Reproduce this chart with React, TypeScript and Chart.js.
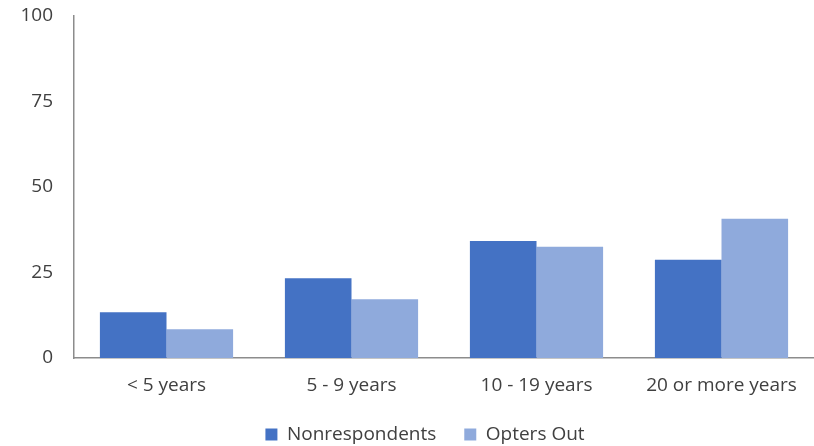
import React, { useEffect, useRef } from "react";
import { Chart, registerables } from "chart.js";

Chart.register(...registerables);

// Length-of-service groups and the share (%) of each group
const categories = ["< 5 years", "5 - 9 years", "10 - 19 years", "20 or more years"];
const nonrespondents = [13.4, 23.3, 34.2, 28.7];
const optersOut = [8.4, 17.2, 32.5, 40.7];
const yTicks = [0, 25, 50, 75, 100];

const FONT = "'Open Sans', sans-serif";
const TEXT = "#404040";
const AXIS = "#8c8c8c";
const LEGEND_HEIGHT = 49;
const LEGEND_SHIFT = -19;

// Gives the bottom legend a fixed height and nudges it left of the plot centre
const legendPlacementPlugin = {
  id: "legendPlacement",
  beforeLayout(chart: any) {
    const legend = chart.legend;
    if (legend && !legend.__placed) {
      const fit = legend.fit.bind(legend);
      legend.fit = () => {
        fit();
        legend.height = LEGEND_HEIGHT;
      };
      const draw = legend.draw.bind(legend);
      legend.draw = (...args: any[]) => {
        const ctx = chart.ctx;
        ctx.save();
        ctx.translate(LEGEND_SHIFT, 0);
        draw(...args);
        ctx.restore();
      };
      legend.__placed = true;
    }
  },
};

export default function App() {
  const ref = useRef<HTMLCanvasElement | null>(null);

  useEffect(() => {
    if (!ref.current) return;
    const chart = new Chart(ref.current, {
      type: "bar",
      data: {
        labels: categories,
        datasets: [
          {
            label: "Nonrespondents",
            data: nonrespondents,
            backgroundColor: "#4472C4",
            categoryPercentage: 0.72,
            barPercentage: 1,
          },
          {
            label: "Opters Out",
            data: optersOut,
            backgroundColor: "#8FAADC",
            categoryPercentage: 0.72,
            barPercentage: 1,
          },
        ],
      },
      plugins: [legendPlacementPlugin],
      options: {
        animation: false,
        responsive: true,
        maintainAspectRatio: false,
        layout: { padding: { top: 16, right: 0, left: 0, bottom: 0 } },
        plugins: {
          tooltip: { enabled: false },
          legend: {
            position: "bottom",
            fullSize: false,
            labels: {
              boxWidth: 12,
              boxHeight: 12,
              padding: 28,
              color: TEXT,
              font: { family: FONT, size: 19 },
            },
          },
        },
        scales: {
          x: {
            grid: { display: false, drawTicks: false },
            border: { display: true, color: AXIS, width: 1.5 },
            ticks: {
              color: TEXT,
              padding: 16,
              font: { family: FONT, size: 19 },
            },
            afterFit: (scale: any) => {
              scale.height = 39;
            },
          },
          y: {
            min: 0,
            max: 100,
            grid: { display: false, drawTicks: false },
            border: { display: true, color: AXIS, width: 1.5 },
            afterBuildTicks: (scale: any) => {
              scale.ticks = yTicks.map((v) => ({ value: v }));
            },
            ticks: {
              color: TEXT,
              padding: 21,
              font: { family: FONT, size: 19 },
            },
            afterFit: (scale: any) => {
              scale.width = 74;
              scale.paddingTop = 0;
              scale.paddingBottom = 0;
            },
          },
        },
      },
    });
    return () => chart.destroy();
  }, []);

  return (
    <div style={{ position: "absolute", left: 0, top: 0, width: 814, height: 446, background: "#fff" }}>
      <canvas ref={ref} />
    </div>
  );
}
